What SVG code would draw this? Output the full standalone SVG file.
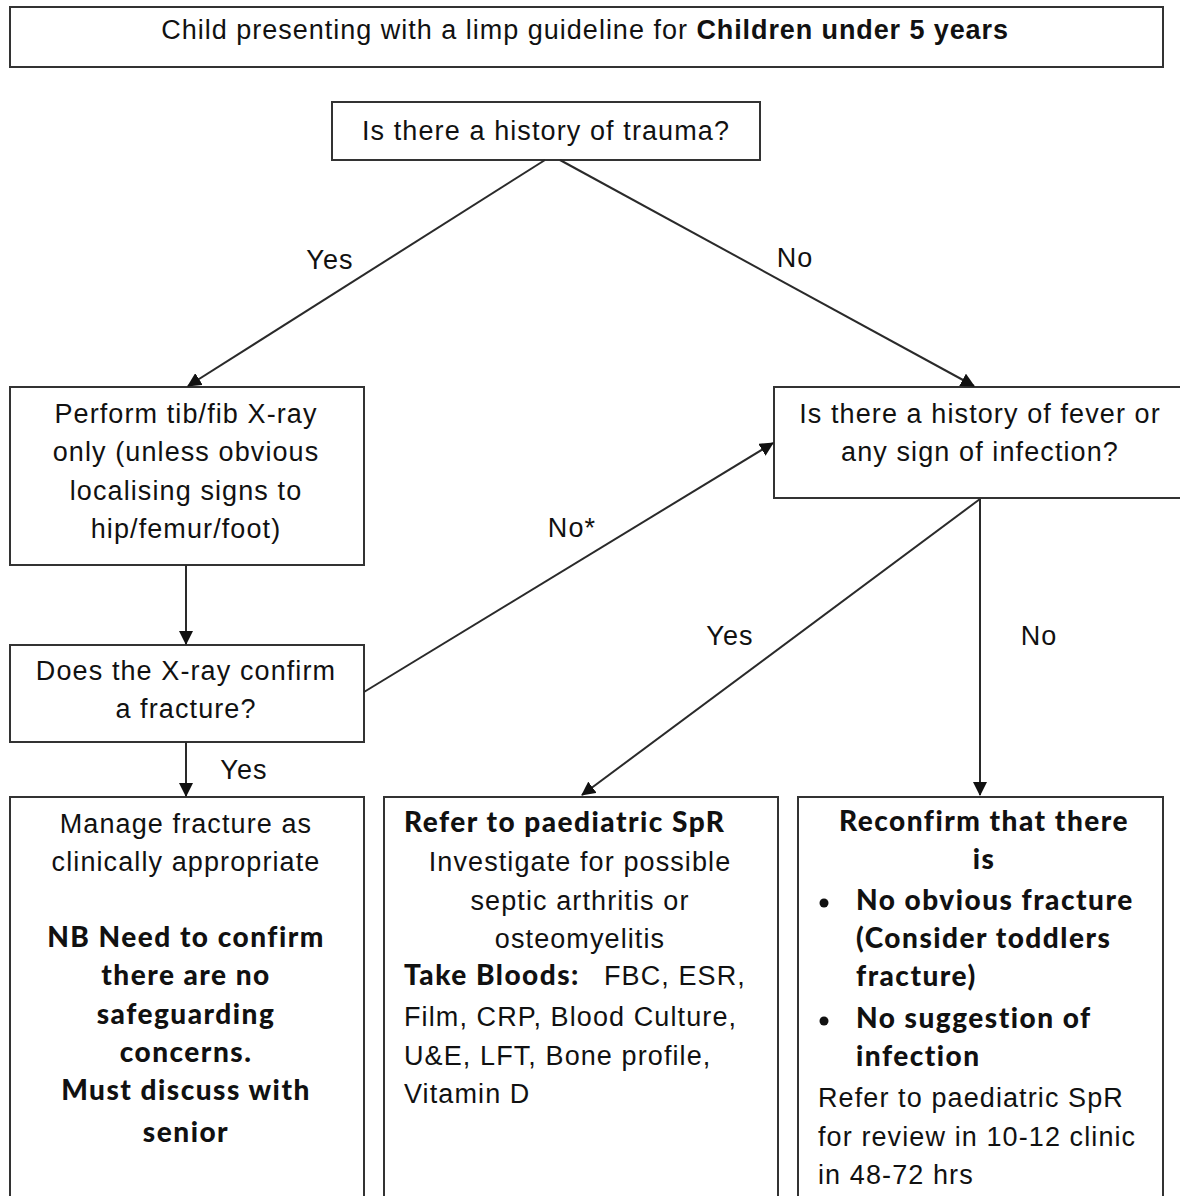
<svg xmlns="http://www.w3.org/2000/svg" width="1180" height="1196" viewBox="0 0 1180 1196">
<style>
.box{fill:#fff;stroke:#333;stroke-width:2}
.t{font-family:"Liberation Sans",Arial,sans-serif;font-size:27px;letter-spacing:1.1px;fill:#111}
.c{text-anchor:middle}
.b{font-family:Lato,"Liberation Sans",sans-serif;font-weight:900;font-size:28px;letter-spacing:1.5px;fill:#111}
.bt{font-family:"Liberation Sans",Arial,sans-serif;font-weight:700;letter-spacing:0.9px}
.ln{stroke:#2a2a2a;stroke-width:2;fill:none}
</style>
<defs>
<marker id="ah" markerWidth="14" markerHeight="14" refX="13" refY="7" orient="auto" markerUnits="userSpaceOnUse">
<path d="M0,0 L14,7 L0,14 Z" fill="#111"/>
</marker>
</defs>
<rect width="1180" height="1196" fill="#fff"/>

<g id="title">
<rect class="box" x="10" y="7" width="1153" height="60"/>
<text class="t c" x="585" y="39" style="letter-spacing:1px">Child presenting with a limp guideline for <tspan class="bt">Children under 5 years</tspan></text>
</g>

<g id="trauma">
<rect class="box" x="332" y="102" width="428" height="58"/>
<text class="t c" x="546" y="140">Is there a history of trauma?</text>
</g>

<g id="xray">
<rect class="box" x="10" y="387" width="354" height="178"/>
<text class="t c" x="186" y="423">Perform tib/fib X-ray</text>
<text class="t c" x="186" y="461">only (unless obvious</text>
<text class="t c" x="186" y="500">localising signs to</text>
<text class="t c" x="186" y="538">hip/femur/foot)</text>
</g>

<g id="fever">
<rect class="box" x="774" y="387" width="420" height="111"/>
<text class="t c" x="980" y="423">Is there a history of fever or</text>
<text class="t c" x="980" y="461">any sign of infection?</text>
</g>

<g id="confirm">
<rect class="box" x="10" y="645" width="354" height="97"/>
<text class="t c" x="186" y="680">Does the X-ray confirm</text>
<text class="t c" x="186" y="718">a fracture?</text>
</g>

<g id="manage">
<rect class="box" x="10" y="797" width="354" height="420"/>
<text class="t c" x="186" y="833">Manage fracture as</text>
<text class="t c" x="186" y="871">clinically appropriate</text>
<text class="b c" x="186" y="947">NB Need to confirm</text>
<text class="b c" x="186" y="985">there are no</text>
<text class="b c" x="186" y="1024">safeguarding</text>
<text class="b c" x="186" y="1062">concerns.</text>
<text class="b c" x="186" y="1100">Must discuss with</text>
<text class="b c" x="186" y="1142">senior</text>
</g>

<g id="refer">
<rect class="box" x="384" y="797" width="394" height="420"/>
<text class="b" x="404" y="832">Refer to paediatric SpR</text>
<text class="t c" x="580" y="871">Investigate for possible</text>
<text class="t c" x="580" y="910">septic arthritis or</text>
<text class="t c" x="580" y="948">osteomyelitis</text>
<text class="t" x="404" y="985"><tspan class="b">Take Bloods:</tspan><tspan x="604">FBC, ESR,</tspan></text>
<text class="t" x="404" y="1026">Film, CRP, Blood Culture,</text>
<text class="t" x="404" y="1065">U&amp;E, LFT, Bone profile,</text>
<text class="t" x="404" y="1103">Vitamin D</text>
</g>

<g id="reconfirm">
<rect class="box" x="798" y="797" width="365" height="420"/>
<text class="b c" x="984" y="831">Reconfirm that there</text>
<text class="b c" x="984" y="869">is</text>
<circle cx="824" cy="903" r="4.5" fill="#111"/>
<text class="b" x="856" y="910">No obvious fracture</text>
<text class="b" x="856" y="948">(Consider toddlers</text>
<text class="b" x="856" y="986">fracture)</text>
<circle cx="824" cy="1021" r="4.5" fill="#111"/>
<text class="b" x="856" y="1028">No suggestion of</text>
<text class="b" x="856" y="1066">infection</text>
<text class="t" x="818" y="1107">Refer to paediatric SpR</text>
<text class="t" x="818" y="1146">for review in 10-12 clinic</text>
<text class="t" x="818" y="1184">in 48-72 hrs</text>
</g>

<g id="connectors">
<line class="ln" x1="545" y1="160" x2="188" y2="386" marker-end="url(#ah)"/>
<line class="ln" x1="560" y1="160" x2="974" y2="386" marker-end="url(#ah)"/>
<line class="ln" x1="186" y1="565" x2="186" y2="644" marker-end="url(#ah)"/>
<line class="ln" x1="364" y1="692" x2="773" y2="443" marker-end="url(#ah)"/>
<line class="ln" x1="186" y1="742" x2="186" y2="796" marker-end="url(#ah)"/>
<line class="ln" x1="980" y1="499" x2="582" y2="795" marker-end="url(#ah)"/>
<line class="ln" x1="980" y1="499" x2="980" y2="795" marker-end="url(#ah)"/>
<text class="t c" x="330" y="269">Yes</text>
<text class="t c" x="795" y="267">No</text>
<text class="t c" x="572" y="537">No*</text>
<text class="t c" x="244" y="779">Yes</text>
<text class="t c" x="730" y="645">Yes</text>
<text class="t c" x="1039" y="645">No</text>
</g>
</svg>
